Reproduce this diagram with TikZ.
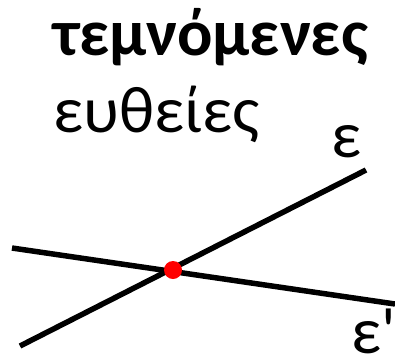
\documentclass[tikz,border=0pt]{standalone}
\usepackage{fontspec}
\setmainfont{Carlito}

\begin{document}
\begin{tikzpicture}[x=1pt,y=-1pt,
  lbl/.style={anchor=base west,inner sep=0pt,font=\fontsize{66}{77}\selectfont},
  eytheia/.style={line width=5.5pt,black},
  tomi/.style={circle,fill=red,inner sep=0pt,minimum size=18pt}]
  \useasboundingbox (0,0) rectangle (395,362);

  % Draw the title
  \node[lbl] (titlos) at (53,55) {\bfseries τεμνόμενες};
  \node[lbl] (ypotitlos) at (53,132) {ευθείες};

  % Draw the line e
  \coordinate (e1) at (20,346);
  \coordinate (e2) at (366,170);
  \draw[eytheia] (e1) -- (e2);
  \node[lbl] (e) at (331,157) {ε};

  % Draw the line e'
  \coordinate (f1) at (12,248);
  \coordinate (f2) at (395,304);
  \draw[eytheia] (f1) -- (f2);
  \node[lbl] (f) at (351,353) {ε\textquotesingle};

  % Draw the intersection point
  \node[tomi] (simeio) at (173,270) {};
\end{tikzpicture}
\end{document}
